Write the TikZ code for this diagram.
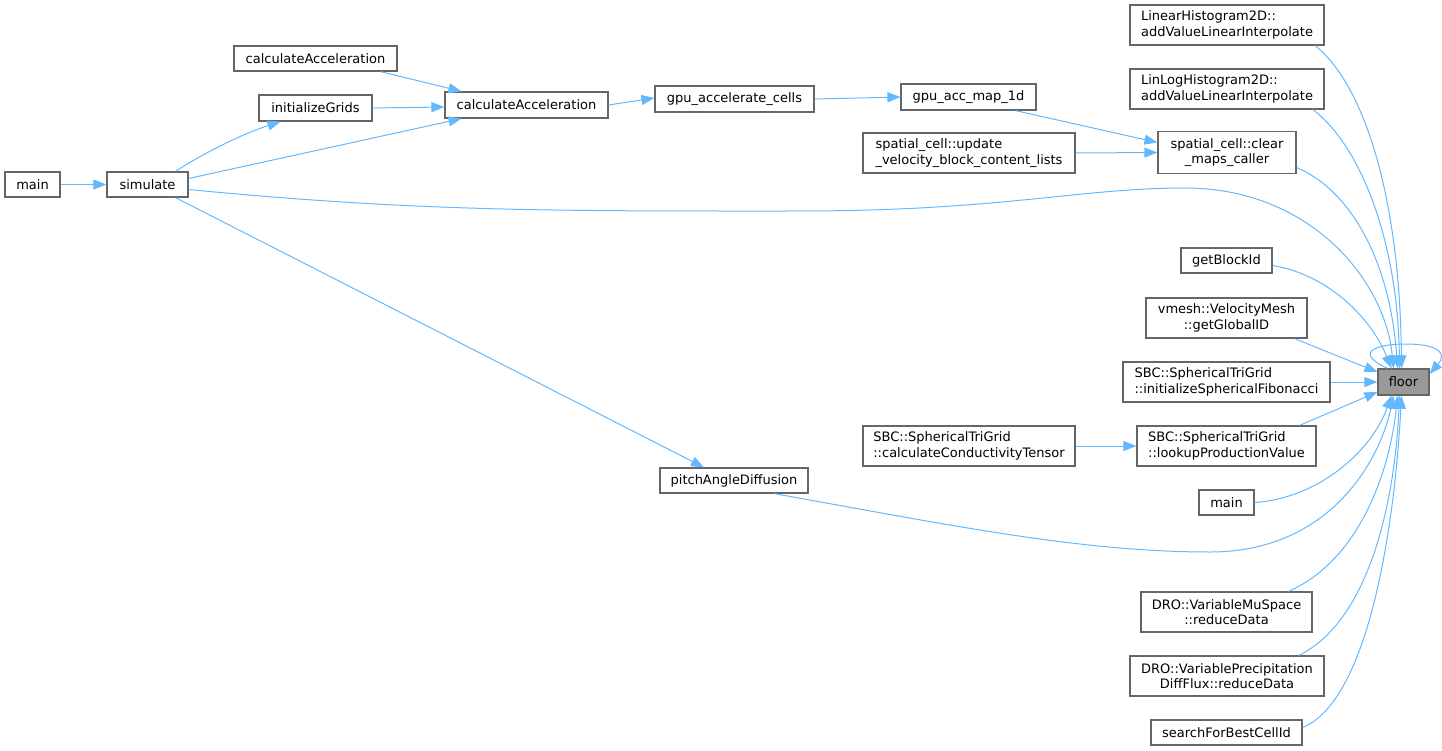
\documentclass[tikz,border=0pt]{standalone}
\usepackage{fontspec}
\setmainfont{DejaVu Sans}
\usetikzlibrary{arrows.meta}
\definecolor{edgeblue}{HTML}{63B8FF}
\definecolor{nodeborder}{HTML}{666666}
\definecolor{floorfill}{HTML}{999999}
\begin{document}
\begin{tikzpicture}[x=1pt,y=-1pt,
  fn/.style={draw=nodeborder, line width=1.2pt, fill=white, inner sep=0pt,
    font=\fontsize{13}{15.5}\selectfont, text=black},
  call/.style={draw=edgeblue, line width=1pt, -{Triangle[length=13pt,width=10pt]}},
]
\useasboundingbox (0,0) rectangle (1442,751);

% nodes
\node[fn, minimum width=55pt, minimum height=25pt] (main1) at (32.5,184.5) {main};
\node[fn, minimum width=81pt, minimum height=25pt] (simulate) at (147.5,184.5) {simulate};
\node[fn, minimum width=163pt, minimum height=25pt] (calcTop) at (315.5,58.5) {calculateAcceleration};
\node[fn, minimum width=113pt, minimum height=26pt] (initGrids) at (315.5,108) {initializeGrids};
\node[fn, minimum width=163pt, minimum height=26pt] (calcMid) at (526.5,105) {calculateAcceleration};
\node[fn, minimum width=159pt, minimum height=26pt] (gpuCells) at (734.5,99) {gpu\_accelerate\_cells};
\node[fn, minimum width=135pt, minimum height=26pt] (gpuMap) at (968.5,97) {gpu\_acc\_map\_1d};
\node[fn, minimum width=212pt, minimum height=40pt, align=left] (updVel) at (969,153) {spatial\_cell::update\\\_velocity\_block\_content\_lists};
\node[fn, minimum width=138pt, minimum height=42pt, align=center] (clearMaps) at (1227,152.5) {spatial\_cell::clear\\\_maps\_caller};
\node[fn, minimum width=194pt, minimum height=40pt, align=left] (linHist) at (1227,25) {LinearHistogram2D::\\addValueLinearInterpolate};
\node[fn, minimum width=194pt, minimum height=40pt, align=left] (linLog) at (1227,89) {LinLogHistogram2D::\\addValueLinearInterpolate};
\node[fn, minimum width=91pt, minimum height=25pt] (getBlockId) at (1226.5,260.5) {getBlockId};
\node[fn, minimum width=161pt, minimum height=40pt, align=center] (vmesh) at (1226.5,318) {vmesh::VelocityMesh\\::getGlobalID};
\node[fn, minimum width=207pt, minimum height=40pt, align=left] (sbcInit) at (1226.5,382) {SBC::SphericalTriGrid\\::initializeSphericalFibonacci};
\node[fn, minimum width=179pt, minimum height=40pt, align=left] (sbcLookup) at (1226.5,446) {SBC::SphericalTriGrid\\::lookupProductionValue};
\node[fn, minimum width=212pt, minimum height=40pt, align=left] (sbcCond) at (969,446) {SBC::SphericalTriGrid\\::calculateConductivityTensor};
\node[fn, minimum width=55pt, minimum height=25pt] (main2) at (1226.5,502.5) {main};
\node[fn, minimum width=148pt, minimum height=25pt] (pitch) at (734,480.5) {pitchAngleDiffusion};
\node[fn, minimum width=171pt, minimum height=40pt, align=center] (droMu) at (1226.5,612) {DRO::VariableMuSpace\\::reduceData};
\node[fn, minimum width=194pt, minimum height=40pt, align=center] (droPrec) at (1227,676) {DRO::VariablePrecipitation\\DiffFlux::reduceData};
\node[fn, minimum width=151pt, minimum height=25pt] (search) at (1226.5,732.5) {searchForBestCellId};
\node[fn, fill=floorfill, minimum width=51pt, minimum height=26pt] (floor) at (1403.5,382) {floor};

% edges (caller -> callee)
\draw[call] (main1.east) -- (simulate.west);
\draw[call] ([xshift=28pt]simulate.north) .. controls (205,152) and (245,133) .. ([xshift=-35pt]initGrids.south);
\draw[call] ([yshift=6pt]simulate.east) -- ([xshift=-65pt]calcMid.south);
\draw[call] (initGrids.east) -- ([yshift=-2pt]calcMid.west);
\draw[call] ([xshift=65pt]calcTop.south) -- ([xshift=-65pt]calcMid.north);
\draw[call] (calcMid.east) -- ([yshift=1pt]gpuCells.west);
\draw[call] (gpuCells.east) -- (gpuMap.west);
\draw[call] ([xshift=47pt]gpuMap.south) -- ([yshift=10pt]clearMaps.west);
\draw[call] (updVel.east) -- (clearMaps.west);
\draw[call] (sbcCond.east) -- (sbcLookup.west);
\draw[call] ([xshift=28pt]simulate.south) -- ([xshift=-30pt]pitch.north);

% into floor from above
\draw[call] ([xshift=88pt]linHist.south) .. controls (1365,85) and (1400,200) .. ([xshift=-2pt]floor.north);
\draw[call] ([xshift=86pt]linLog.south) .. controls (1365,150) and (1398,250) .. ([xshift=-4pt]floor.north);
\draw[call] ([yshift=-15pt]clearMaps.east) .. controls (1350,190) and (1390,260) .. ([xshift=-6pt]floor.north);
\draw[call] ([yshift=-5pt]simulate.east) .. controls (420,212) and (560,211) .. (800,211)
  .. controls (1000,211) and (1080,188) .. (1185,188)
  .. controls (1310,188) and (1385,280) .. ([xshift=-10pt]floor.north);
\draw[call] ([yshift=-5pt]getBlockId.east) .. controls (1330,275) and (1372,320) .. ([xshift=-12pt]floor.north);

% into floor from left
\draw[call] ([xshift=68pt]vmesh.south) -- ([yshift=10pt]floor.west);
\draw[call] (sbcInit.east) -- (floor.west);
\draw[call] ([xshift=73pt]sbcLookup.north) -- ([yshift=-10pt]floor.west);

% into floor from below
\draw[call] (main2.east) .. controls (1320,498) and (1372,450) .. ([xshift=-12pt]floor.south);
\draw[call] ([xshift=40pt]pitch.south) .. controls (950,525) and (1080,552) .. (1210,552)
  .. controls (1330,552) and (1380,460) .. ([xshift=-10pt]floor.south);
\draw[call] ([xshift=62pt]droMu.north) .. controls (1360,560) and (1390,470) .. ([xshift=-6pt]floor.south);
\draw[call] ([xshift=72pt]droPrec.north) .. controls (1370,620) and (1395,500) .. ([xshift=-4pt]floor.south);
\draw[call] ([yshift=5pt]search.east) .. controls (1370,700) and (1395,520) .. ([xshift=-2pt]floor.south);

% self loop
\draw[call] ([xshift=-16pt]floor.north) .. controls (1352,352) and (1378,344) .. (1405,344)
  .. controls (1440,344) and (1447,354) .. ([yshift=8pt]floor.east);
\end{tikzpicture}
\end{document}
